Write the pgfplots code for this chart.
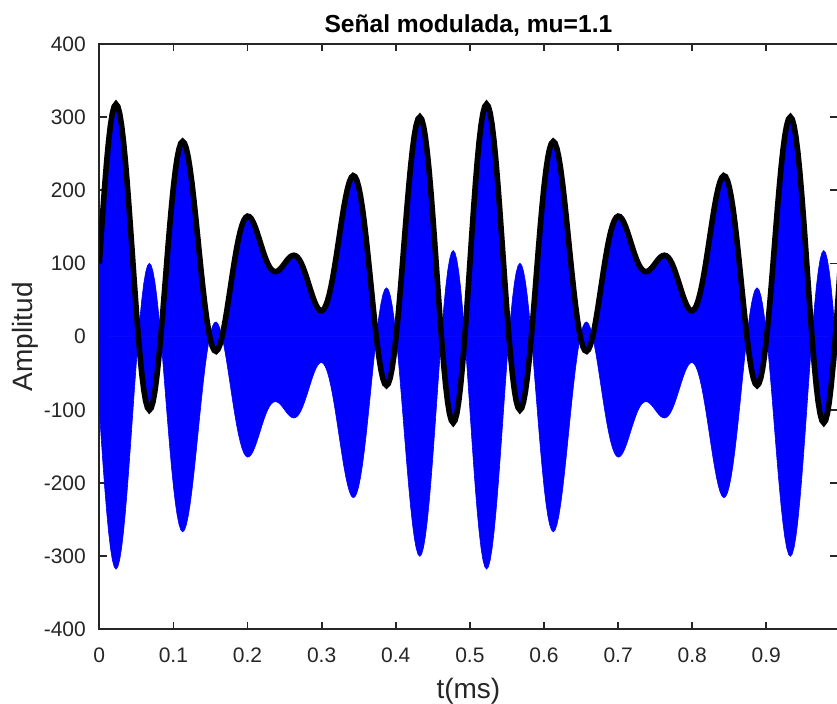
\documentclass[border=0pt]{standalone}
\usepackage{pgfplots}
\pgfplotsset{compat=1.18}
\usepackage{pgfplotstable}
\usepackage{fontspec}
\setmainfont{Liberation Sans}
\definecolor{axgray}{RGB}{38,38,38}
\pgfplotstableread[row sep=\\]{t e\\
0 100\\ 0.0025 137.8\\ 0.005 174.5\\ 0.0075 208.9\\ 0.01 240.0\\ 0.0125 266.8\\ 0.015 288.5\\ 0.0175 304.6\\ 0.02 314.4\\ 0.0225 317.8\\
0.025 314.6\\ 0.0275 305.0\\ 0.03 289.4\\ 0.0325 268.1\\ 0.035 242.0\\ 0.0375 211.8\\ 0.04 178.4\\ 0.0425 143.0\\ 0.045 106.6\\ 0.0475 70.4\\
0.05 35.3\\ 0.0525 2.6\\ 0.055 -26.9\\ 0.0575 -52.2\\ 0.06 -72.7\\ 0.0625 -87.8\\ 0.065 -97.0\\ 0.0675 -100.3\\ 0.07 -97.5\\ 0.0725 -88.8\\
0.075 -74.7\\ 0.0775 -55.5\\ 0.08 -32.0\\ 0.0825 -4.9\\ 0.085 24.8\\ 0.0875 56.2\\ 0.09 88.3\\ 0.0925 120.2\\ 0.095 150.8\\ 0.0975 179.2\\
0.1 204.6\\ 0.1025 226.3\\ 0.105 243.8\\ 0.1075 256.5\\ 0.11 264.2\\ 0.1125 266.8\\ 0.115 264.3\\ 0.1175 256.9\\ 0.12 245.1\\ 0.1225 229.3\\
0.125 210.0\\ 0.1275 188.0\\ 0.13 164.1\\ 0.1325 139.1\\ 0.135 113.7\\ 0.1375 88.8\\ 0.14 65.1\\ 0.1425 43.4\\ 0.145 24.2\\ 0.1475 8.1\\
0.15 -4.6\\ 0.1525 -13.6\\ 0.155 -18.7\\ 0.1575 -20.1\\ 0.16 -17.7\\ 0.1625 -11.8\\ 0.165 -2.8\\ 0.1675 8.9\\ 0.17 22.7\\ 0.1725 38.2\\
0.175 54.7\\ 0.1775 71.5\\ 0.18 88.3\\ 0.1825 104.3\\ 0.185 119.1\\ 0.1875 132.2\\ 0.19 143.4\\ 0.1925 152.3\\ 0.195 158.9\\ 0.1975 163.0\\
0.2 164.7\\ 0.2025 164.0\\ 0.205 161.3\\ 0.2075 156.8\\ 0.21 150.9\\ 0.2125 143.8\\ 0.215 136.0\\ 0.2175 127.9\\ 0.22 119.9\\ 0.2225 112.3\\
0.225 105.4\\ 0.2275 99.5\\ 0.23 94.8\\ 0.2325 91.5\\ 0.235 89.5\\ 0.2375 88.8\\ 0.24 89.4\\ 0.2425 91.0\\ 0.245 93.5\\ 0.2475 96.6\\
0.25 100\\ 0.2525 103.4\\ 0.255 106.5\\ 0.2575 109.0\\ 0.26 110.6\\ 0.2625 111.2\\ 0.265 110.5\\ 0.2675 108.5\\ 0.27 105.2\\ 0.2725 100.5\\
0.275 94.6\\ 0.2775 87.7\\ 0.28 80.1\\ 0.2825 72.1\\ 0.285 64.0\\ 0.2875 56.2\\ 0.29 49.1\\ 0.2925 43.2\\ 0.295 38.7\\ 0.2975 36.0\\
0.3 35.3\\ 0.3025 37.0\\ 0.305 41.1\\ 0.3075 47.7\\ 0.31 56.6\\ 0.3125 67.8\\ 0.315 80.9\\ 0.3175 95.7\\ 0.32 111.7\\ 0.3225 128.5\\
0.325 145.3\\ 0.3275 161.8\\ 0.33 177.3\\ 0.3325 191.1\\ 0.335 202.8\\ 0.3375 211.8\\ 0.34 217.7\\ 0.3425 220.1\\ 0.345 218.7\\ 0.3475 213.6\\
0.35 204.6\\ 0.3525 191.9\\ 0.355 175.8\\ 0.3575 156.6\\ 0.36 134.9\\ 0.3625 111.2\\ 0.365 86.3\\ 0.3675 60.9\\ 0.37 35.9\\ 0.3725 12.0\\
0.375 -10.0\\ 0.3775 -29.3\\ 0.38 -45.1\\ 0.3825 -56.9\\ 0.385 -64.3\\ 0.3875 -66.8\\ 0.39 -64.2\\ 0.3925 -56.5\\ 0.395 -43.8\\ 0.3975 -26.3\\
0.4 -4.6\\ 0.4025 20.8\\ 0.405 49.2\\ 0.4075 79.8\\ 0.41 111.7\\ 0.4125 143.8\\ 0.415 175.2\\ 0.4175 204.9\\ 0.42 232.0\\ 0.4225 255.5\\
0.425 274.7\\ 0.4275 288.8\\ 0.43 297.5\\ 0.4325 300.3\\ 0.435 297.0\\ 0.4375 287.8\\ 0.44 272.7\\ 0.4425 252.2\\ 0.445 226.9\\ 0.4475 197.4\\
0.45 164.7\\ 0.4525 129.6\\ 0.455 93.4\\ 0.4575 57.0\\ 0.46 21.6\\ 0.4625 -11.8\\ 0.465 -42.0\\ 0.4675 -68.1\\ 0.47 -89.4\\ 0.4725 -105.0\\
0.475 -114.6\\ 0.4775 -117.8\\ 0.48 -114.4\\ 0.4825 -104.6\\ 0.485 -88.5\\ 0.4875 -66.8\\ 0.49 -40.0\\ 0.4925 -8.9\\ 0.495 25.5\\ 0.4975 62.2\\
0.5 100\\ 0.5025 137.8\\ 0.505 174.5\\ 0.5075 208.9\\ 0.51 240.0\\ 0.5125 266.8\\ 0.515 288.5\\ 0.5175 304.6\\ 0.52 314.4\\ 0.5225 317.8\\
0.525 314.6\\ 0.5275 305.0\\ 0.53 289.4\\ 0.5325 268.1\\ 0.535 242.0\\ 0.5375 211.8\\ 0.54 178.4\\ 0.5425 143.0\\ 0.545 106.6\\ 0.5475 70.4\\
0.55 35.3\\ 0.5525 2.6\\ 0.555 -26.9\\ 0.5575 -52.2\\ 0.56 -72.7\\ 0.5625 -87.8\\ 0.565 -97.0\\ 0.5675 -100.3\\ 0.57 -97.5\\ 0.5725 -88.8\\
0.575 -74.7\\ 0.5775 -55.5\\ 0.58 -32.0\\ 0.5825 -4.9\\ 0.585 24.8\\ 0.5875 56.2\\ 0.59 88.3\\ 0.5925 120.2\\ 0.595 150.8\\ 0.5975 179.2\\
0.6 204.6\\ 0.6025 226.3\\ 0.605 243.8\\ 0.6075 256.5\\ 0.61 264.2\\ 0.6125 266.8\\ 0.615 264.3\\ 0.6175 256.9\\ 0.62 245.1\\ 0.6225 229.3\\
0.625 210.0\\ 0.6275 188.0\\ 0.63 164.1\\ 0.6325 139.1\\ 0.635 113.7\\ 0.6375 88.8\\ 0.64 65.1\\ 0.6425 43.4\\ 0.645 24.2\\ 0.6475 8.1\\
0.65 -4.6\\ 0.6525 -13.6\\ 0.655 -18.7\\ 0.6575 -20.1\\ 0.66 -17.7\\ 0.6625 -11.8\\ 0.665 -2.8\\ 0.6675 8.9\\ 0.67 22.7\\ 0.6725 38.2\\
0.675 54.7\\ 0.6775 71.5\\ 0.68 88.3\\ 0.6825 104.3\\ 0.685 119.1\\ 0.6875 132.2\\ 0.69 143.4\\ 0.6925 152.3\\ 0.695 158.9\\ 0.6975 163.0\\
0.7 164.7\\ 0.7025 164.0\\ 0.705 161.3\\ 0.7075 156.8\\ 0.71 150.9\\ 0.7125 143.8\\ 0.715 136.0\\ 0.7175 127.9\\ 0.72 119.9\\ 0.7225 112.3\\
0.725 105.4\\ 0.7275 99.5\\ 0.73 94.8\\ 0.7325 91.5\\ 0.735 89.5\\ 0.7375 88.8\\ 0.74 89.4\\ 0.7425 91.0\\ 0.745 93.5\\ 0.7475 96.6\\
0.75 100\\ 0.7525 103.4\\ 0.755 106.5\\ 0.7575 109.0\\ 0.76 110.6\\ 0.7625 111.2\\ 0.765 110.5\\ 0.7675 108.5\\ 0.77 105.2\\ 0.7725 100.5\\
0.775 94.6\\ 0.7775 87.7\\ 0.78 80.1\\ 0.7825 72.1\\ 0.785 64.0\\ 0.7875 56.2\\ 0.79 49.1\\ 0.7925 43.2\\ 0.795 38.7\\ 0.7975 36.0\\
0.8 35.3\\ 0.8025 37.0\\ 0.805 41.1\\ 0.8075 47.7\\ 0.81 56.6\\ 0.8125 67.8\\ 0.815 80.9\\ 0.8175 95.7\\ 0.82 111.7\\ 0.8225 128.5\\
0.825 145.3\\ 0.8275 161.8\\ 0.83 177.3\\ 0.8325 191.1\\ 0.835 202.8\\ 0.8375 211.8\\ 0.84 217.7\\ 0.8425 220.1\\ 0.845 218.7\\ 0.8475 213.6\\
0.85 204.6\\ 0.8525 191.9\\ 0.855 175.8\\ 0.8575 156.6\\ 0.86 134.9\\ 0.8625 111.2\\ 0.865 86.3\\ 0.8675 60.9\\ 0.87 35.9\\ 0.8725 12.0\\
0.875 -10.0\\ 0.8775 -29.3\\ 0.88 -45.1\\ 0.8825 -56.9\\ 0.885 -64.3\\ 0.8875 -66.8\\ 0.89 -64.2\\ 0.8925 -56.5\\ 0.895 -43.8\\ 0.8975 -26.3\\
0.9 -4.6\\ 0.9025 20.8\\ 0.905 49.2\\ 0.9075 79.8\\ 0.91 111.7\\ 0.9125 143.8\\ 0.915 175.2\\ 0.9175 204.9\\ 0.92 232.0\\ 0.9225 255.5\\
0.925 274.7\\ 0.9275 288.8\\ 0.93 297.5\\ 0.9325 300.3\\ 0.935 297.0\\ 0.9375 287.8\\ 0.94 272.7\\ 0.9425 252.2\\ 0.945 226.9\\ 0.9475 197.4\\
0.95 164.7\\ 0.9525 129.6\\ 0.955 93.4\\ 0.9575 57.0\\ 0.96 21.6\\ 0.9625 -11.8\\ 0.965 -42.0\\ 0.9675 -68.1\\ 0.97 -89.4\\ 0.9725 -105.0\\
0.975 -114.6\\ 0.9775 -117.8\\ 0.98 -114.4\\ 0.9825 -104.6\\ 0.985 -88.5\\ 0.9875 -66.8\\ 0.99 -40.0\\ 0.9925 -8.9\\ 0.995 25.5\\ 0.9975 62.2\\
1.0 100\\
}\envdata
\begin{document}
\begin{tikzpicture}
\path[use as bounding box] (0,0) rectangle (418.5pt,352pt);
\begin{axis}[
  at={(49.65pt,37.35pt)}, anchor=south west,
  scale only axis, width=369.1pt, height=292.65pt,
  xmin=0, xmax=0.996, ymin=-400, ymax=400,
  xtick={0,0.1,0.2,0.3,0.4,0.5,0.6,0.7,0.8,0.9},
  ytick={-400,-300,-200,-100,0,100,200,300,400},
  tick align=inside, major tick length=3.6pt,
  axis line style={axgray, line width=0.9pt},
  every tick/.style={axgray, line width=0.9pt},
  /pgf/number format/assume math mode=true,
  tick label style={font=\fontsize{10.5}{12}\selectfont, text=axgray},
  xticklabel style={yshift=-5.5pt},
  yticklabel style={xshift=-3.2pt},
  title={Señal modulada, mu=1.1},
  title style={font=\fontsize{12.3}{14}\selectfont\bfseries, text=black,
    at={(axis description cs:0.5,1)}, anchor=base},
  xlabel={t(ms)}, ylabel={Amplitud},
  label style={font=\fontsize{14}{16}\selectfont, text=axgray},
  xlabel style={at={([yshift=-34.4pt]axis description cs:0.5,0)}, anchor=base},
  ylabel style={at={([xshift=-33.6pt]axis description cs:0,0.5)}, anchor=base},
]
\addplot[draw=blue, line width=0.3pt, fill=blue, mark=none] table[x=t, y=e]{\envdata} \closedcycle;
\addplot[draw=blue, line width=0.3pt, fill=blue, mark=none] table[x=t, y expr=-\thisrow{e}]{\envdata} \closedcycle;
\addplot[black, line width=2.8pt, mark=none] table[x=t, y=e]{\envdata};
\end{axis}
\end{tikzpicture}
\end{document}
